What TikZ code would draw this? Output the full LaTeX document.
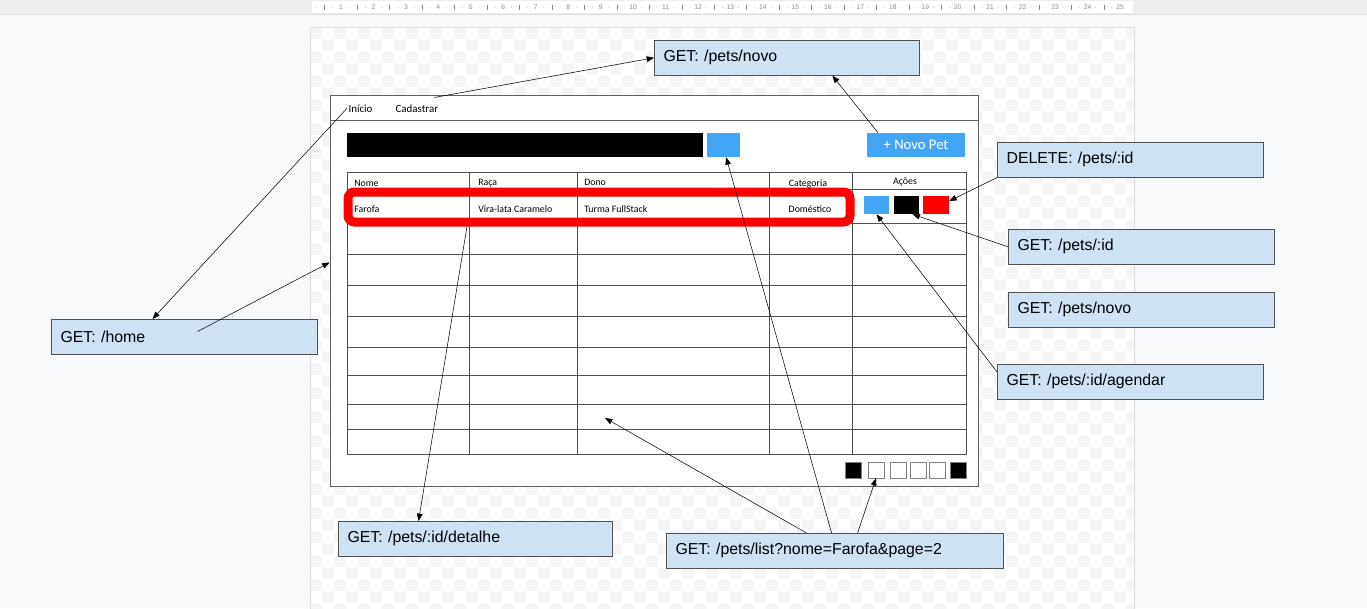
\documentclass[tikz,border=0pt]{standalone}
\usepackage{fontspec}
\setmainfont{Liberation Sans}
\newfontfamily\uifont{Carlito}
\usetikzlibrary{arrows.meta,positioning}
\definecolor{canvas}{HTML}{F8F9FA}
\definecolor{rulerbar}{HTML}{EEEFF1}
\definecolor{rulertick}{HTML}{8A8A8A}
\definecolor{pageedge}{HTML}{DADCE0}
\definecolor{checker}{HTML}{F5F5F5}
\definecolor{framegray}{HTML}{606060}
\definecolor{tableline}{HTML}{505050}
\definecolor{btnblue}{HTML}{42A5F5}
\definecolor{notefill}{HTML}{CFE2F3}
\definecolor{noteedge}{HTML}{505050}
\tikzset{
  note/.style={draw=noteedge,fill=notefill,line width=0.8pt,anchor=north west,
    text width=#1,inner xsep=6.75pt,inner ysep=0pt,minimum height=25.9pt,align=left,
    font=\fontsize{11.9}{13}\selectfont},
  note/.default=186pt,
  btn/.style={fill=#1,minimum width=24.75pt,minimum height=18pt,inner sep=0pt},
  menu/.style={font=\uifont\fontsize{8.2}{9}\selectfont,inner sep=1pt,anchor=base west},
  cell/.style={font=\uifont\fontsize{7.4}{8}\selectfont,inner sep=0pt,anchor=base west},
  pgbox/.style={draw=gray,minimum size=12pt,inner sep=0pt},
  rulertext/.style={font=\fontsize{5}{6}\selectfont,text=rulertick,inner sep=0pt}
}
\begin{document}
\begin{tikzpicture}[x=0.75pt,y=-0.75pt,>={Triangle[length=5.5pt,width=4.2pt]}]
\useasboundingbox (0,0) rectangle (1367,608);
% canvas and ruler
\fill[canvas] (0,0) rectangle (1367,608);
\fill[rulerbar] (0,0) rectangle (1367,14);
\fill[white] (312,1) rectangle (1133,13);
\draw[pageedge] (0,14) -- (1367,14);
\foreach \n in {1,...,25}{
  \node[rulertext] (r\n) at (308.5+32.46*\n,7) {\n};
  \fill[rulertick] (308.5+32.46*\n-24.3,7) circle (0.35pt);
  \draw[rulertick,line width=0.4pt] (308.5+32.46*\n-16.23,4.5) -- ++(0,5);
  \fill[rulertick] (308.5+32.46*\n-8.1,7) circle (0.35pt);
}
% page with transparency checker
\fill[white] (310,27) rectangle (1134,620);
\begin{scope}
  \clip (310,27) rectangle (1134,608);
  \foreach \j in {0,...,48}{
    \pgfmathtruncatemacro\off{mod(\j,2)}
    \pgfmathtruncatemacro\nxt{\off+2}
    \foreach \i in {\off,\nxt,...,68}
      \fill[checker] (310+12*\i,27+12*\j) rectangle ++(12,12);
  }
\end{scope}
\draw[pageedge] (310,620) -- (310,27) -- (1134,27) -- (1134,620);

% mockup
\node[draw=framegray,fill=white,line width=0.65pt,minimum width=486pt,
  minimum height=293.25pt,inner sep=0pt] (mockup) at (654,290.5) {};
\draw[framegray,line width=0.65pt] (330,120) -- (978,120);
\node[menu] (inicio) at (347,112) {Início};
\node[menu] (cadastrar) at (394,112) {Cadastrar};
\fill[black] (347,133) rectangle (703,157);
\node[btn=btnblue] (searchbtn) at (723.5,145) {};
\node[btn=btnblue,minimum width=73.5pt,text=white,
  font=\uifont\fontsize{11}{12}\selectfont] (novobtn) at (916,145) {+ Novo Pet};

% table
\draw[tableline,line width=0.6pt] (347,172) rectangle (966,454);
\foreach \y in {189,223,254,285,316,347,375,404,429}
  \draw[tableline,line width=0.6pt] (347,\y) -- (966,\y);
\foreach \x in {469,577,769,852}
  \draw[tableline,line width=0.6pt] (\x,172) -- (\x,454);
\node[cell] (hnome) at (354,186) {Nome};
\node[cell] (hraca) at (478,185) {Raça};
\node[cell] (hdono) at (584,185) {Dono};
\node[cell,anchor=base] (hcat) at (808,186) {Categoria};
\node[cell,anchor=base] (hacoes) at (905,184) {Ações};
\node[cell] (dnome) at (354,212) {Farofa};
\node[cell] (draca) at (478,212) {Vira-lata Caramelo};
\node[cell] (ddono) at (584,212) {Turma FullStack};
\node[cell,anchor=base] (dcat) at (810,212) {Doméstico};
\node[draw=red,line width=6.75pt,rounded corners=5pt,minimum width=376.5pt,
  minimum height=22.5pt,inner sep=0pt] (selrow) at (599,207) {};
\node[btn=btnblue,minimum width=18.75pt,minimum height=13.5pt] (schedbtn) at (876.5,205) {};
\node[btn=black,minimum width=18.75pt,minimum height=13.5pt] (showbtn) at (906.5,205) {};
\node[btn=red,minimum width=19.5pt,minimum height=13.5pt] (delbtn) at (936,205) {};

% pagination
\foreach \x/\c [count=\k] in {853/black,876/white,898/white,918/white,937/white,958/black}
  \node[pgbox,fill=\c] (pg\k) at (\x,470) {};

% route notes
\node[note=185.25pt] (topnovo) at (654,40) {GET: /pets/novo};
\node[note] (delete) at (997,142) {DELETE: /pets/:id};
\node[note] (getid) at (1008,229) {GET: /pets/:id};
\node[note] (getnovo) at (1008,292) {GET: /pets/novo};
\node[note] (agendar) at (997,364) {GET: /pets/:id/agendar};
\node[note] (home) at (51,319) {GET: /home};
\node[note=192pt] (detalhe) at (338,521) {GET: /pets/:id/detalhe};
\node[note=239.25pt] (list) at (666,533) {GET: /pets/list?nome=Farofa\&page=2};

% connectors
\draw[->] ([xshift=-4pt,yshift=4pt]cadastrar.north east) -- (topnovo.west);
\draw[->] ([xshift=-28.5pt]novobtn.north) -- ([xshift=34pt]topnovo.south);
\draw[->] (inicio.west) -- ([xshift=-24pt]home.north);
\draw[->] ([xshift=9.75pt,yshift=4pt]home.center) -- ([yshift=21pt]mockup.west);
\draw[->] (delete.south west) -- ([yshift=3pt]delbtn.east);
\draw[->] (getid.west) -- ([xshift=-5pt]showbtn.south east);
\draw[->] ([yshift=-6pt]agendar.north west) -- (schedbtn.south);
\draw[->] ([xshift=-99pt]selrow.south) -- ([xshift=-42.75pt]detalhe.north);
\coordinate (tablebody) at (605,418);
\draw[->] ([xshift=-21.4pt]list.north) -- (tablebody);
\draw[->] ([xshift=-2.6pt]list.north) -- ([xshift=2pt]searchbtn.south);
\draw[->] ([xshift=16.9pt]list.north) -- (pg2.south);
\end{tikzpicture}
\end{document}
